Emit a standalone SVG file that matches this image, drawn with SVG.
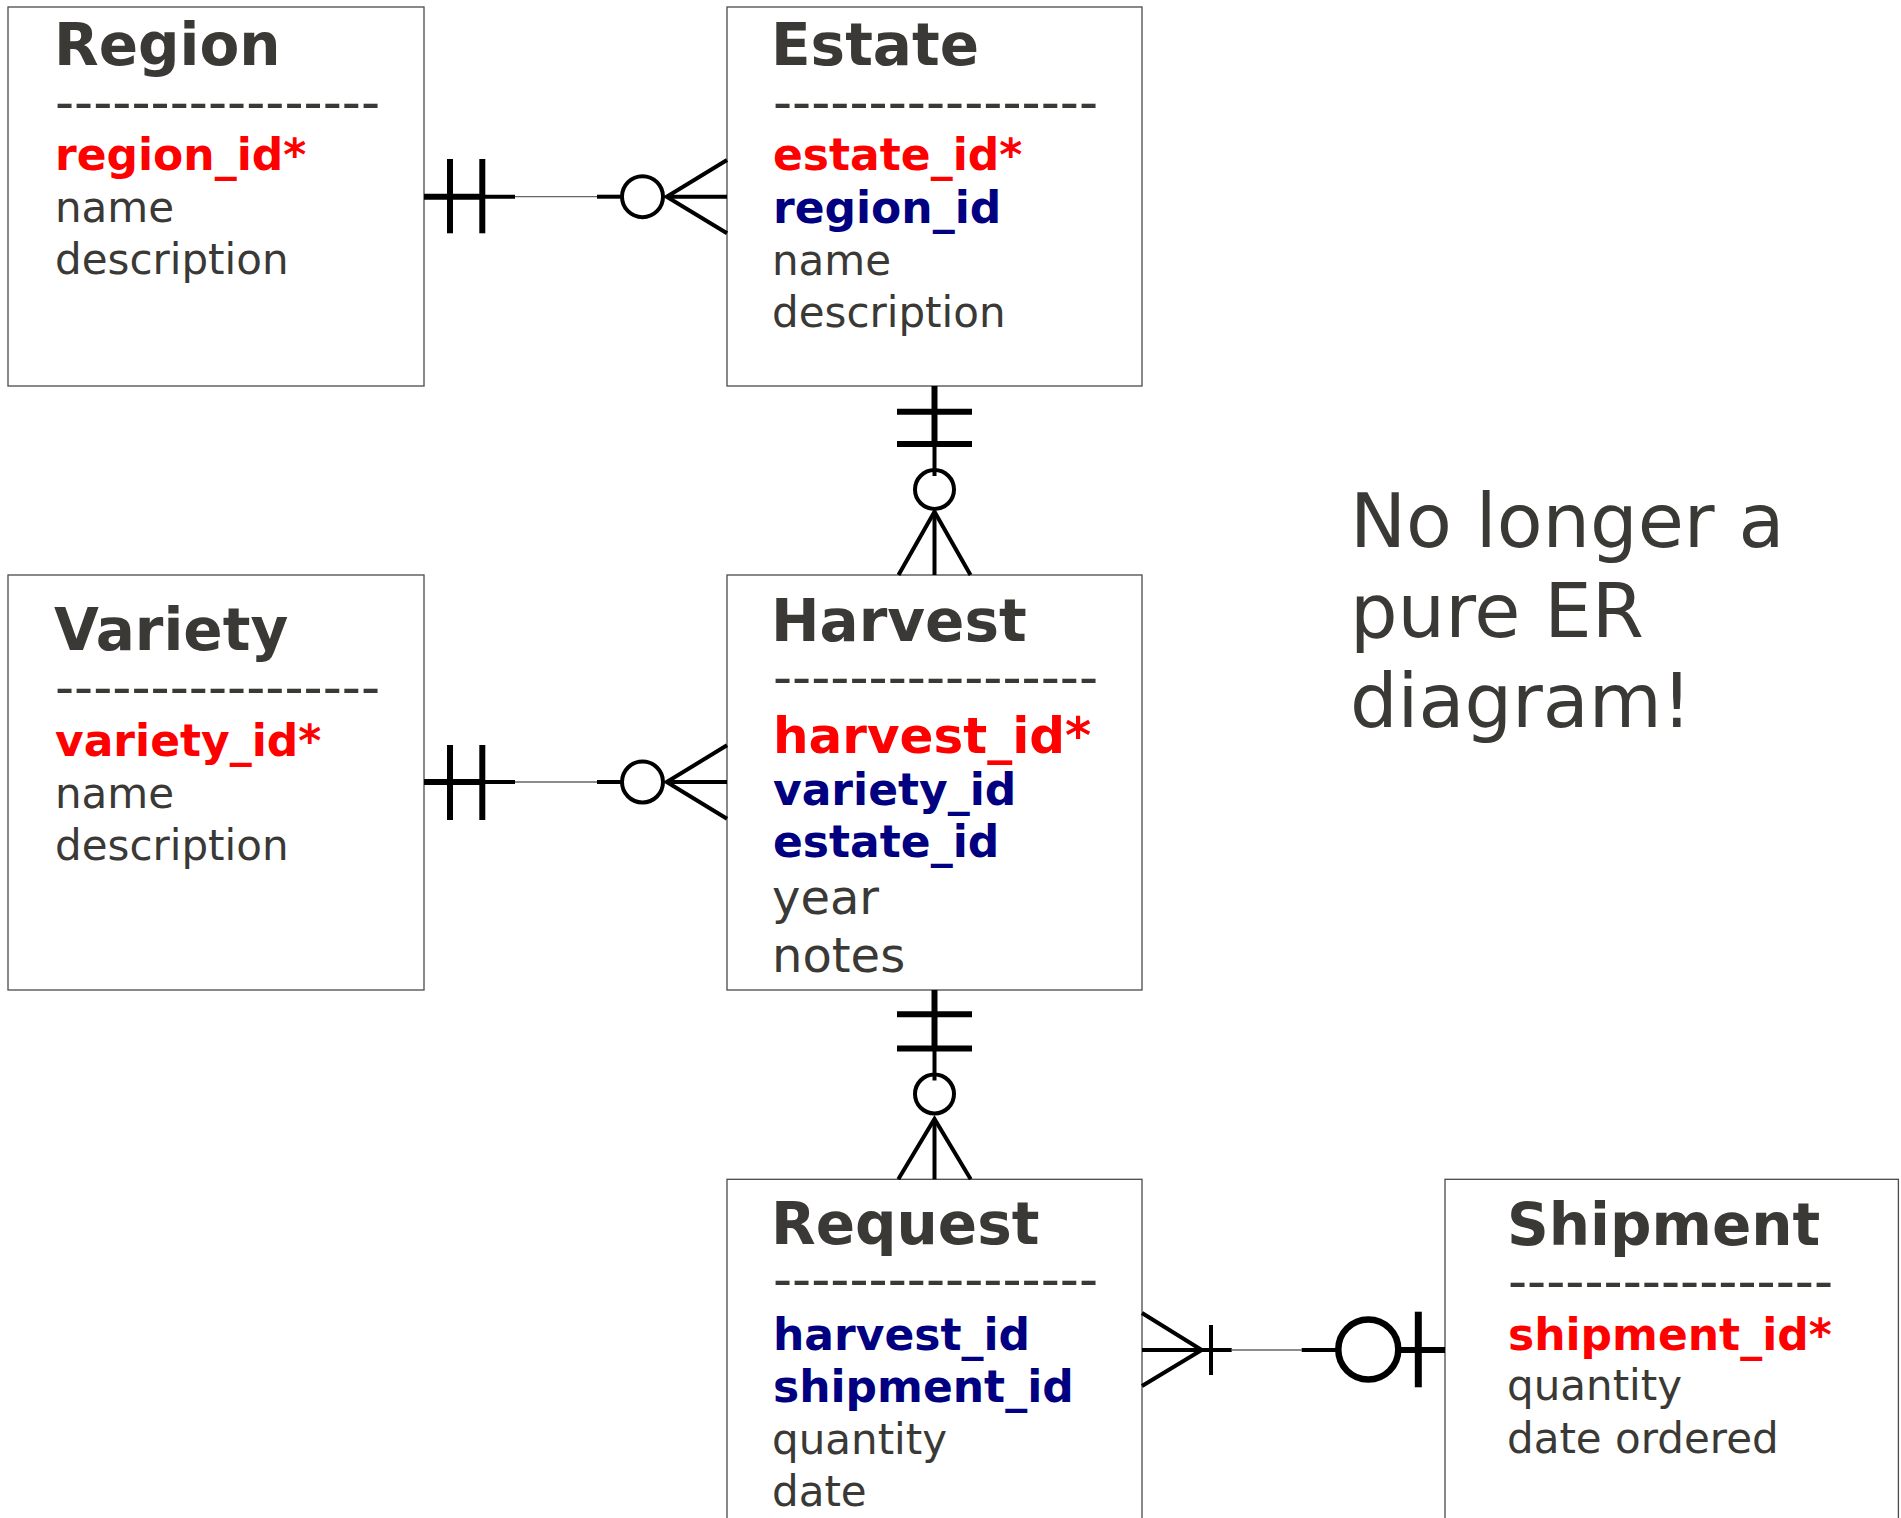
<svg xmlns="http://www.w3.org/2000/svg" width="1901" height="1518" viewBox="0 0 1901 1518">
  <style>
    text { font-family: "DejaVu Sans", "Verdana", sans-serif; fill: #3a3935; }
    .box { fill: #ffffff; stroke: #4a4a4a; stroke-width: 1.3; }
    .title { font-size: 58px; font-weight: bold; }
    .sep { font-size: 53px; }
    .pk { font-size: 44px; font-weight: bold; fill: #ff0000; }
    .fk { font-size: 44px; font-weight: bold; fill: #000080; }
    .attr { font-size: 42px; }
    .note { font-size: 75px; }
    .thick { stroke: #000; stroke-width: 6; fill: none; }
    .med { stroke: #000; stroke-width: 4; fill: none; }
    .thin { stroke: #666; stroke-width: 1.3; fill: none; }
  </style>
  <rect width="1901" height="1518" fill="#ffffff"/>

  <!-- entity tables -->
  <g id="region">
    <rect class="box" x="8" y="7" width="416" height="379"/>
    <text class="title" x="54" y="65">Region</text>
    <text class="sep" x="55" y="120.6">-----------------</text>
    <text class="pk" x="55" y="170">region_id*</text>
    <text class="attr" x="55" y="221.7">name</text>
    <text class="attr" x="55" y="274">description</text>
  </g>

  <g id="estate">
    <rect class="box" x="727" y="7" width="415" height="379"/>
    <text class="title" x="771" y="65">Estate</text>
    <text class="sep" x="773" y="120.6">-----------------</text>
    <text class="pk" x="773" y="170">estate_id*</text>
    <text class="fk" x="773" y="222.7">region_id</text>
    <text class="attr" x="772" y="275">name</text>
    <text class="attr" x="772" y="326.7">description</text>
  </g>

  <g id="variety">
    <rect class="box" x="8" y="575" width="416" height="415"/>
    <text class="title" x="54" y="650">Variety</text>
    <text class="sep" x="55" y="706.3">-----------------</text>
    <text class="pk" x="55" y="756">variety_id*</text>
    <text class="attr" x="55" y="808.3">name</text>
    <text class="attr" x="55" y="860">description</text>
  </g>

  <g id="harvest">
    <rect class="box" x="727" y="575" width="415" height="415"/>
    <text class="title" x="771" y="641">Harvest</text>
    <text class="sep" x="773" y="696.3">-----------------</text>
    <text class="pk" x="773" y="752.7" style="font-size:50px">harvest_id*</text>
    <text class="fk" x="773" y="805">variety_id</text>
    <text class="fk" x="773" y="856.7">estate_id</text>
    <text class="attr" x="772" y="914" style="font-size:48px">year</text>
    <text class="attr" x="772" y="972.3" style="font-size:48px">notes</text>
  </g>

  <g id="request">
    <rect class="box" x="727" y="1179.3" width="415" height="360"/>
    <text class="title" x="771" y="1244.2">Request</text>
    <text class="sep" x="773" y="1298.3">-----------------</text>
    <text class="fk" x="773" y="1350">harvest_id</text>
    <text class="fk" x="773" y="1402">shipment_id</text>
    <text class="attr" x="772" y="1453.6">quantity</text>
    <text class="attr" x="772" y="1505.7">date</text>
  </g>

  <g id="shipment">
    <rect class="box" x="1445" y="1179.3" width="453.4" height="360"/>
    <text class="title" x="1507" y="1245">Shipment</text>
    <text class="sep" x="1508" y="1299.6">-----------------</text>
    <text class="pk" x="1508" y="1350">shipment_id*</text>
    <text class="attr" x="1507" y="1400">quantity</text>
    <text class="attr" x="1507" y="1453.3">date ordered</text>
  </g>

  <g id="remark">
    <text class="note" x="1350" y="546.7">No longer a</text>
    <text class="note" x="1350" y="636.7">pure ER</text>
    <text class="note" x="1350" y="726.7">diagram!</text>
  </g>

  <!-- relationship lines with crow's-foot ends -->
  <g id="connectors">
    <!-- Region (one, mandatory) to Estate (zero or many) -->
    <g id="region-estate">
      <line class="thick" x1="424" y1="196.7" x2="482" y2="196.7"/>
      <line class="med" x1="482" y1="196.7" x2="515" y2="196.7"/>
      <line class="thick" x1="450" y1="159" x2="450" y2="233.3"/>
      <line class="thick" x1="482.3" y1="159" x2="482.3" y2="233.3"/>
      <line class="thin" x1="515" y1="196.7" x2="597" y2="196.7"/>
      <line class="med" x1="597" y1="196.7" x2="622" y2="196.7"/>
      <circle class="med" cx="642.5" cy="196.7" r="20.5"/>
      <polyline class="med" points="727,160 666.7,196.7 727,233.3"/>
      <line class="med" x1="666.7" y1="196.7" x2="727" y2="196.7"/>
    </g>

    <!-- Variety (one, mandatory) to Harvest (zero or many) -->
    <g id="variety-harvest">
      <line class="thick" x1="424" y1="782" x2="482" y2="782"/>
      <line class="med" x1="482" y1="782" x2="515" y2="782"/>
      <line class="thick" x1="450" y1="745" x2="450" y2="820"/>
      <line class="thick" x1="482.3" y1="745" x2="482.3" y2="820"/>
      <line class="thin" x1="515" y1="782" x2="597" y2="782"/>
      <line class="med" x1="597" y1="782" x2="622" y2="782"/>
      <circle class="med" cx="642.5" cy="782" r="20.5"/>
      <polyline class="med" points="727,745.3 666.7,782 727,818.7"/>
      <line class="med" x1="666.7" y1="782" x2="727" y2="782"/>
    </g>

    <!-- Estate (one, mandatory) to Harvest (zero or many) -->
    <g id="estate-harvest">
      <line class="thick" x1="934.5" y1="386" x2="934.5" y2="446"/>
      <line class="med" x1="934.5" y1="446" x2="934.5" y2="476"/>
      <line class="thick" x1="897" y1="411.7" x2="972" y2="411.7"/>
      <line class="thick" x1="897" y1="444" x2="972" y2="444"/>
      <circle class="med" cx="934.5" cy="489.5" r="19.5"/>
      <polyline class="med" points="898.5,575 934.5,511.7 970.5,575"/>
      <line class="med" x1="934.5" y1="511.7" x2="934.5" y2="575"/>
    </g>

    <!-- Harvest (one, mandatory) to Request (zero or many) -->
    <g id="harvest-request">
      <line class="thick" x1="934.5" y1="990" x2="934.5" y2="1050"/>
      <line class="med" x1="934.5" y1="1050" x2="934.5" y2="1080.5"/>
      <line class="thick" x1="897" y1="1014.3" x2="972" y2="1014.3"/>
      <line class="thick" x1="897" y1="1048.6" x2="972" y2="1048.6"/>
      <circle class="med" cx="934.5" cy="1094" r="19.5"/>
      <polyline class="med" points="898.3,1179.3 934.5,1119 970.7,1179.3"/>
      <line class="med" x1="934.5" y1="1119" x2="934.5" y2="1179.3"/>
    </g>

    <!-- Request (one or many) to Shipment (zero or one) -->
    <g id="request-shipment">
      <polyline class="med" points="1142,1313 1201.7,1350 1142,1386"/>
      <line class="med" x1="1142" y1="1350" x2="1231.7" y2="1350"/>
      <line class="med" x1="1211" y1="1325" x2="1211" y2="1375"/>
      <line class="thin" x1="1231.7" y1="1350" x2="1301.7" y2="1350"/>
      <line class="med" x1="1301.7" y1="1350" x2="1336" y2="1350"/>
      <circle cx="1368.3" cy="1349.5" r="30" fill="none" stroke="#000" stroke-width="6.5"/>
      <line x1="1418.3" y1="1311.7" x2="1418.3" y2="1387.3" stroke="#000" stroke-width="7"/>
      <line class="thick" x1="1400" y1="1350" x2="1445" y2="1350"/>
    </g>
  </g>
</svg>
